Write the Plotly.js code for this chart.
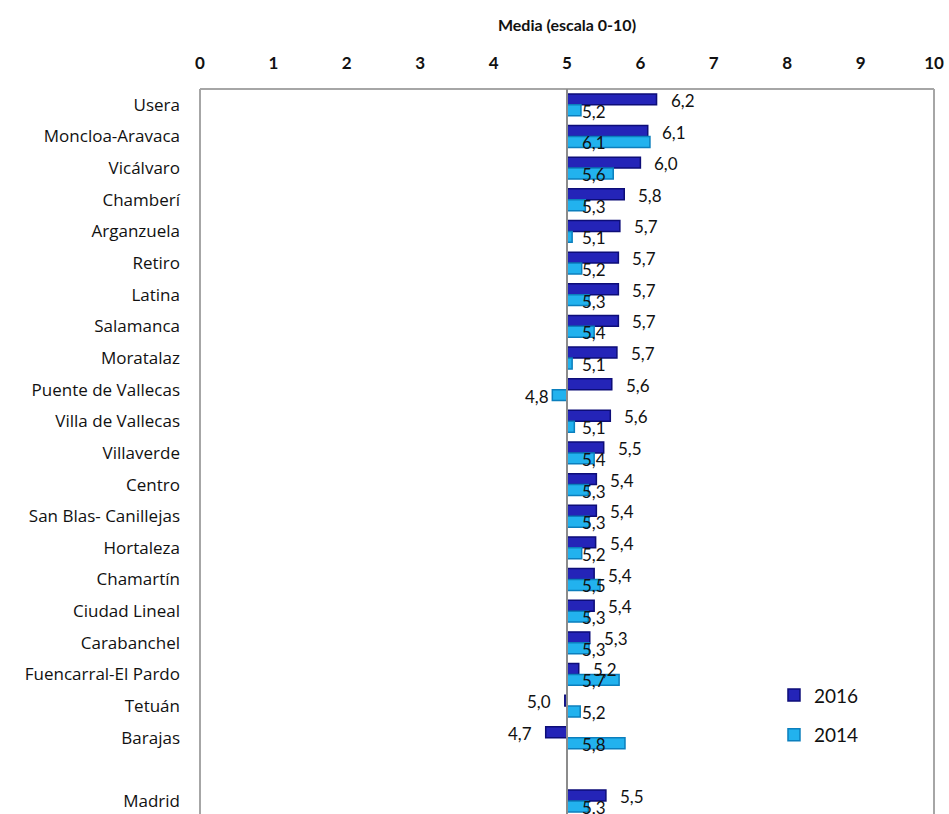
<!DOCTYPE html>
<html>
<head>
<meta charset="utf-8">
<script src="https://cdn.plot.ly/plotly-3.0.1.min.js"></script>
<style>html,body{margin:0;padding:0;background:#fff;}#chart{width:949px;height:814px;}</style>
</head>
<body>
<div id="chart"></div>
<script>
const districts = ["Usera","Moncloa-Aravaca","Vicálvaro","Chamberí","Arganzuela","Retiro","Latina","Salamanca","Moratalaz","Puente de Vallecas","Villa de Vallecas","Villaverde","Centro","San Blas- Canillejas","Hortaleza","Chamartín","Ciudad Lineal","Carabanchel","Fuencarral-El Pardo","Tetuán","Barajas","Madrid"];
const v2016 = [6.22,6.10,6.00,5.78,5.72,5.70,5.70,5.70,5.68,5.61,5.59,5.50,5.40,5.40,5.39,5.37,5.37,5.31,5.16,4.97,4.71,5.53];
const v2014 = [5.19,6.13,5.63,5.25,5.07,5.20,5.30,5.37,5.07,4.80,5.10,5.37,5.29,5.30,5.20,5.45,5.29,5.30,5.71,5.18,5.79,5.29];
const xTicks = [0,1,2,3,4,5,6,7,8,9,10];
const BASE = 5;

const pos = districts.map((d,i) => d === "Madrid" ? i + 1 : i);
const fmt = v => v.toFixed(1).replace(".", ",");
const W = 0.345;

const font = "Lato, 'Open Sans', sans-serif";

const traces = [
  {
    type: "bar", orientation: "h", name: "2016",
    y: pos, x: v2016.map(v => v - BASE), base: BASE,
    width: W, offset: -W,
    marker: {color: "#2424b8", line: {color: "#0d0d78", width: 1.5}},
    legendgroup: "a", hoverinfo: "skip"
  },
  {
    type: "bar", orientation: "h", name: "2014",
    y: pos, x: v2014.map(v => v - BASE), base: BASE,
    width: W, offset: 0,
    marker: {color: "#22b2ee", line: {color: "#0b7fbd", width: 1.5}},
    legendgroup: "b", hoverinfo: "skip"
  }
];

const annotations = [];
v2016.forEach((v,i) => {
  annotations.push({
    x: v, y: pos[i] - W/2, xref: "x", yref: "y",
    text: fmt(v), showarrow: false,
    xanchor: v >= BASE ? "left" : "right",
    xshift: v >= BASE ? 12 : -12, yshift: -1,
    font: {family: font, size: 17, color: "#111"}
  });
});
v2014.forEach((v,i) => {
  annotations.push({
    x: v >= BASE ? BASE : v, y: pos[i] + W/2, xref: "x", yref: "y",
    text: fmt(v), showarrow: false,
    xanchor: v >= BASE ? "left" : "right",
    xshift: v >= BASE ? 13 : -1, yshift: -1,
    font: {family: font, size: 17, color: "#111"}
  });
});

const frame = {color: "#a6a6a6", width: 2};
const shapes = [
  {type: "line", xref: "paper", yref: "paper", x0: 0, x1: 1, y0: 1, y1: 1, line: frame},
  {type: "line", xref: "paper", yref: "paper", x0: 0, x1: 0, y0: 0, y1: 1, line: frame},
  {type: "line", xref: "paper", yref: "paper", x0: 1, x1: 1, y0: 0, y1: 1, line: frame},
  {type: "line", xref: "x", yref: "paper", x0: BASE, x1: BASE, y0: 0, y1: 1, line: {color: "#8c8c8c", width: 2}, layer: "above"}
];

const layout = {
  width: 949, height: 814,
  margin: {l: 200, r: 15, t: 89, b: 0},
  paper_bgcolor: "#fff", plot_bgcolor: "#fff",
  barmode: "overlay",
  showlegend: true,
  legend: {
    x: 0.782, y: 0.19, xanchor: "left", yanchor: "top",
    font: {family: font, size: 19, color: "#111"},
    tracegroupgap: 12, traceorder: "grouped", bgcolor: "rgba(0,0,0,0)"
  },
  xaxis: {
    side: "top", range: [0, 10], tickvals: xTicks, ticktext: xTicks.map(String),
    showgrid: false, zeroline: false, showline: false, ticks: "",
    ticklabelstandoff: 16,
    tickfont: {family: font, size: 17, color: "#111", weight: "bold"},
    title: {text: "<b>Media (escala 0-10)</b>", font: {family: font, size: 16, color: "#111"}, standoff: 15}
  },
  yaxis: {
    range: [22.41, -0.5], tickvals: pos, ticktext: districts,
    showgrid: false, zeroline: false, showline: false, ticks: "",
    ticklabelstandoff: 19,
    tickfont: {family: "'Open Sans', Lato, sans-serif", size: 17, color: "#111"}
  },
  shapes: shapes,
  annotations: annotations
};

Plotly.newPlot("chart", traces, layout, {displayModeBar: false, staticPlot: true});
</script>
</body>
</html>
